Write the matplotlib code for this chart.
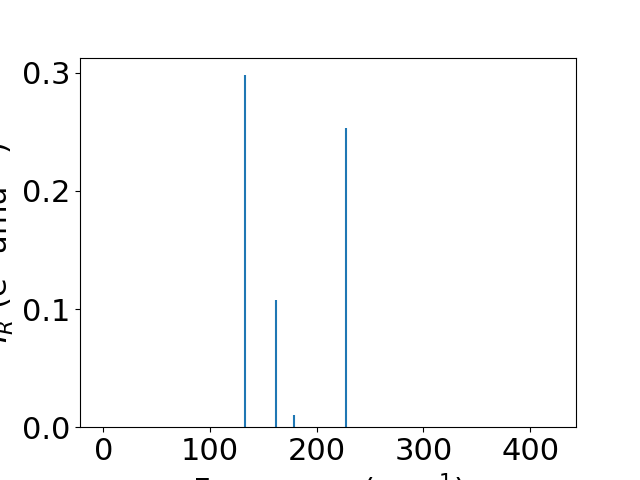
import matplotlib
matplotlib.use("Agg")
import matplotlib.pyplot as plt

freqs = [133.0, 161.5, 179.0, 227.8]
intensities = [0.298, 0.1075, 0.0102, 0.253]

plt.rcParams['font.size'] = 22
fig, ax = plt.subplots(figsize=(6.4, 4.8), dpi=100)
ax.vlines(freqs, 0, intensities, color='#1f77b4', linewidth=1.5)
ax.set_xlim(-22, 443)
ax.set_ylim(0, max(intensities) * 1.05)
ax.set_xticks([0, 100, 200, 300, 400])
ax.set_yticks([0.0, 0.1, 0.2, 0.3])
ax.set_xlabel("Frequency (cm$^{-1}$)")
ax.set_ylabel("$I_R$ (e$^2$ amu$^{-1}$)")
fig.savefig("out.png", dpi=100)
